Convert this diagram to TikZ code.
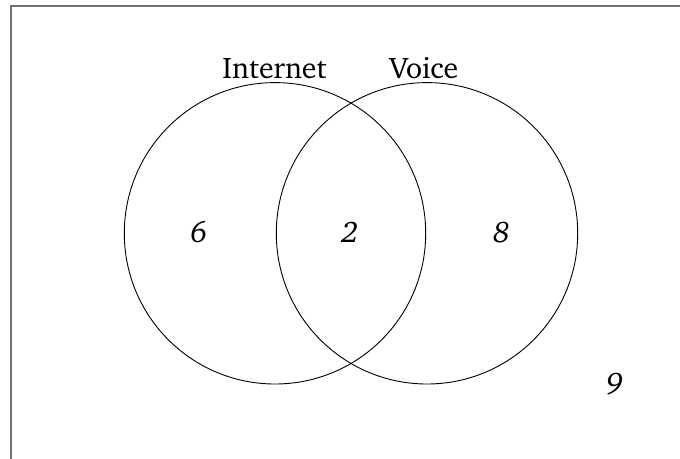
\documentclass[tikz,border=0pt]{standalone}
\usepackage[T1]{fontenc}
\usepackage{charter}
\begin{document}
\begin{tikzpicture}[x=1pt,y=-1pt,
  setcircle/.style={draw=black,line width=0.9pt},
  setlabel/.style={inner sep=0pt,anchor=base,font=\fontsize{29.8}{34}\selectfont},
  count/.style={inner sep=0pt,anchor=center,font=\fontsize{29.8}{34}\selectfont\itshape},
  frameline/.style={draw=black!55,line width=2.2pt}]
  \useasboundingbox (0,0) rectangle (680,458);
  \clip (0,0) rectangle (680,458);
  % outer frame (universe)
  \draw[frameline] (11.2,5.8) rectangle (720,500);
  % the two sets
  \node[setcircle,circle,minimum size=301.4pt,inner sep=0pt] (inet) at (275,233.3) {};
  \node[setcircle,circle,minimum size=301.4pt,inner sep=0pt] (voice) at (427,233.3) {};
  % set names
  \node[setlabel] (inetlbl) at (274.5,78) {Internet};
  \node[setlabel] (voicelbl) at (424,78) {Voice};
  % region counts
  \node[count] (onlyinet) at (199,232.5) {6};
  \node[count] (both) at (350,232.5) {2};
  \node[count] (onlyvoice) at (501.5,232.5) {8};
  \node[count] (neither) at (615,384) {9};
\end{tikzpicture}
\end{document}
